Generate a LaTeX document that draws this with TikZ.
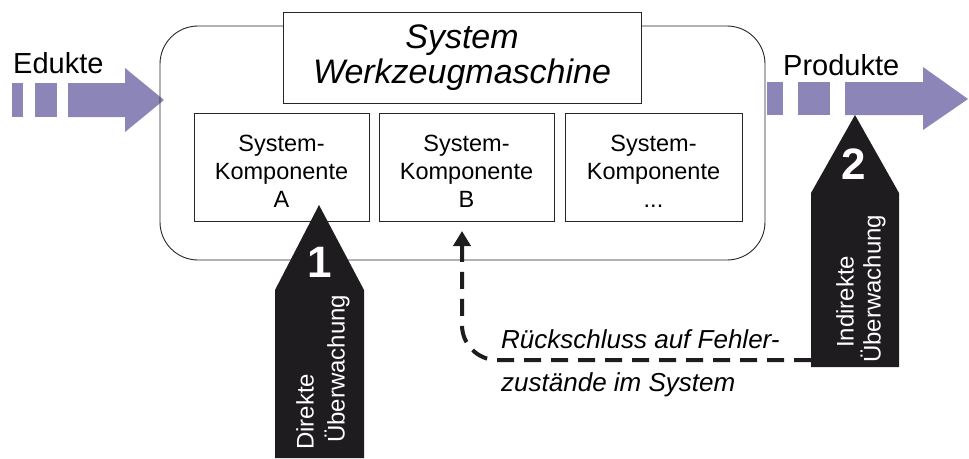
\documentclass[tikz,border=0pt]{standalone}
\usepackage{fontspec}
\setmainfont{Liberation Sans}
\usetikzlibrary{arrows.meta}
\definecolor{flow}{RGB}{139,133,184}
\definecolor{ink}{RGB}{30,28,30}
\begin{document}
\begin{tikzpicture}[x=1pt,y=-1pt,
  frame/.style={draw=black!85, line width=0.9pt},
  titlebox/.style={frame, fill=white, minimum width=358pt, minimum height=91pt,
    align=center, inner sep=0pt, font=\fontsize{34}{35}\selectfont\itshape},
  compbox/.style={frame, fill=white, minimum height=108pt, align=center,
    inner sep=0pt, font=\fontsize{23.5}{28}\selectfont},
  comptext/.style={align=center, inner sep=0pt, font=\fontsize{23.5}{28}\selectfont},
  flowlabel/.style={anchor=base west, inner sep=0pt, font=\fontsize{29}{30}\selectfont},
  marker/.style={fill=ink},
  marknum/.style={text=white, inner sep=0pt, font=\fontsize{44}{44}\selectfont\bfseries},
  marktext/.style={text=white, rotate=90, anchor=west, inner sep=0pt,
    font=\fontsize{24}{26}\selectfont},
  fb/.style={draw=ink, line width=4pt, dash pattern=on 17pt off 10pt,
    rounded corners=35pt, -{Triangle[length=15pt,width=17pt]}},
  fbtext/.style={anchor=north west, align=left, inner sep=0pt,
    font=\fontsize{26}{43}\selectfont\itshape}
]
\useasboundingbox (0,0) rectangle (969,458);

% material flow in (Edukte)
\fill[flow] (12,83) rectangle (23,117);
\fill[flow] (35,83) rectangle (57,117);
\fill[flow] (68,83) -- (125,83) -- (125,68) -- (164,100) -- (125,132) -- (125,117) -- (68,117) -- cycle;
\node[flowlabel] (edukte) at (13,73) {Edukte};

% material flow out (Produkte)
\fill[flow] (767,82) rectangle (783,115);
\fill[flow] (798,82) rectangle (830,115);
\fill[flow] (845,82) -- (923,82) -- (923,67) -- (968,99) -- (923,130) -- (923,115) -- (845,115) -- cycle;
\node[flowlabel] (produkte) at (783,75) {Produkte};

% system boundary
\node[frame, rounded corners=38pt, minimum width=605pt, minimum height=234pt,
  inner sep=0pt] (sys) at (462.5,143) {};
\node[titlebox] (title) at (462,57.5) {System\\Werkzeugmaschine};

% system components
\node[compbox, minimum width=175pt] (compA) at (281.5,167) {};
\node[compbox, minimum width=175pt] (compB) at (466.5,167) {};
\node[compbox, minimum width=177pt] (compC) at (653.5,167) {};
\node[comptext] (labelA) at (281.5,171) {System-\\Komponente\\A};
\node[comptext] (labelB) at (466.5,171) {System-\\Komponente\\B};
\node[comptext] (labelC) at (653.5,171) {System-\\Komponente\\...};

% marker 1: direct monitoring
\fill[marker] (275,458) -- (275,290) -- (319,205) -- (364,290) -- (364,458) -- cycle;
\node[marknum] (num1) at (320,262) {1};
\node[marktext] (direkte) at (305,450) {Direkte};
\node[marktext] (ueber1) at (337,443) {Überwachung};

% marker 2: indirect monitoring
\fill[marker] (811,367) -- (811,193) -- (855,115) -- (899,193) -- (899,367) -- cycle;
\node[marknum] (num2) at (854,164) {2};
\node[marktext] (indirekte) at (845,348) {Indirekte};
\node[marktext] (ueber2) at (873,363) {Überwachung};

% feedback from indirect monitoring to the components
\coordinate (fbstart) at (811,360);
\coordinate (fbend) at (462,231);
\draw[fb] (fbstart) -| (fbend);
\node[fbtext] (fbnote) at (501,329) {Rückschluss auf Fehler-\\zustände im System};
\end{tikzpicture}
\end{document}
